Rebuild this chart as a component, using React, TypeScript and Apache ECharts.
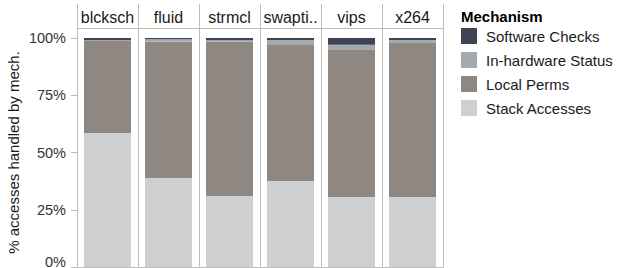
import React, { useEffect, useRef } from "react";
import * as echarts from "echarts";

const benchmarks = ["blcksch", "fluid", "strmcl", "swapti..", "vips", "x264"];
const mechanisms = ["Software Checks", "In-hardware Status", "Local Perms", "Stack Accesses"];
const colors = ["#3f4452", "#a4abaf", "#8f8882", "#cfcfcf"];
// percentages per benchmark
const stackAccesses = [58.5, 38.9, 31.0, 37.6, 30.6, 30.6];
const localPerms = [40.5, 59.6, 67.5, 59.3, 64.2, 67.2];
const hwStatus = [0.1, 0.9, 0.5, 2.2, 2.2, 1.3];
const swChecks = [0.9, 0.6, 1.0, 0.9, 3.0, 0.9];
const yTicks = [0, 25, 50, 75, 100];

const FONT = "Arial";
const LINE = "#bdbdbd";

export default function App() {
  const ref = useRef<HTMLDivElement>(null);
  useEffect(() => {
    if (!ref.current) return;
    const chart = echarts.init(ref.current, undefined, { renderer: "svg" });
    const panelLeft = 77;
    const panelW = 61;
    const top = 38;
    const height = 229;
    const n = benchmarks.length;
    const grids: any[] = [];
    const xAxes: any[] = [];
    const yAxes: any[] = [];
    const series: any[] = [];
    const valuesByMech: Record<string, number[]> = {
      "Stack Accesses": stackAccesses,
      "Local Perms": localPerms,
      "In-hardware Status": hwStatus,
      "Software Checks": swChecks,
    };
    const stackOrder = ["Stack Accesses", "Local Perms", "In-hardware Status", "Software Checks"];
    for (let i = 0; i < n; i++) {
      grids.push({
        left: panelLeft + panelW * i,
        top,
        width: panelW,
        height,
        containLabel: false,
        outerBoundsMode: "none",
      });
      xAxes.push({
        type: "category",
        gridIndex: i,
        data: [benchmarks[i]],
        position: "top",
        axisLine: { show: false },
        axisTick: { show: false },
        axisLabel: { margin: 13, fontSize: 16, color: "#1a1a1a", fontFamily: FONT },
      });
      yAxes.push({
        type: "value",
        gridIndex: i,
        min: 0,
        max: 100,
        interval: 25,
        show: i === 0,
        axisLine: { show: false },
        axisTick: { show: true, length: 6, lineStyle: { color: LINE } },
        splitLine: { show: false },
        axisLabel: {
          formatter: (v: number) => (yTicks.includes(v) ? (v === 0 ? "{z|" + v + "%}" : v + "%") : ""),
          fontSize: 14.5,
          color: "#333",
          margin: 11,
          fontFamily: FONT,
          rich: {
            z: { fontSize: 14.5, color: "#333", fontFamily: FONT, padding: [0, 0, 11, 0] },
          },
        },
        name: i === 0 ? "% accesses handled by mech." : "",
        nameLocation: "middle",
        nameGap: 56,
        nameRotate: 90,
        nameTextStyle: { fontSize: 15, color: "#1a1a1a", fontFamily: FONT },
      });
      stackOrder.forEach((m) => {
        const idx = mechanisms.indexOf(m);
        series.push({
          type: "bar",
          name: m,
          xAxisIndex: i,
          yAxisIndex: i,
          stack: "s" + i,
          barWidth: 47,
          data: [valuesByMech[m][i]],
          itemStyle: { color: colors[idx] },
        });
      });
    }
    const lines: any[] = [];
    for (let i = 0; i <= n; i++) {
      const x = panelLeft + panelW * i + 0.5;
      lines.push({ type: "line", shape: { x1: x, y1: 4, x2: x, y2: 267 }, style: { stroke: LINE, lineWidth: 1 }, z: 10 });
    }
    lines.push({ type: "line", shape: { x1: panelLeft, y1: 28.5, x2: panelLeft + panelW * n + 1, y2: 28.5 }, style: { stroke: LINE, lineWidth: 1 }, z: 10 });
    lines.push({ type: "line", shape: { x1: panelLeft, y1: 267.5, x2: panelLeft + panelW * n + 1, y2: 267.5 }, style: { stroke: LINE, lineWidth: 1 }, z: 10 });
    lines.push({
      type: "text",
      left: 461,
      top: 9,
      style: { text: "Mechanism", font: "bold 15px Arial", fill: "#000" },
    });
    chart.setOption({
      animation: false,
      backgroundColor: "#fff",
      grid: grids,
      xAxis: xAxes,
      yAxis: yAxes,
      series,
      legend: {
        data: mechanisms,
        orient: "vertical",
        left: 461,
        top: 28,
        padding: 0,
        itemWidth: 16,
        itemHeight: 16,
        itemGap: 8,
        icon: "rect",
        selectedMode: false,
        textStyle: { fontSize: 15, color: "#1a1a1a", fontFamily: FONT, padding: [0, 0, 0, 4] },
      },
      graphic: lines,
    });
    return () => chart.dispose();
  }, []);
  return <div ref={ref} style={{ position: "fixed", left: 0, top: 0, width: 621, height: 268 }} />;
}
